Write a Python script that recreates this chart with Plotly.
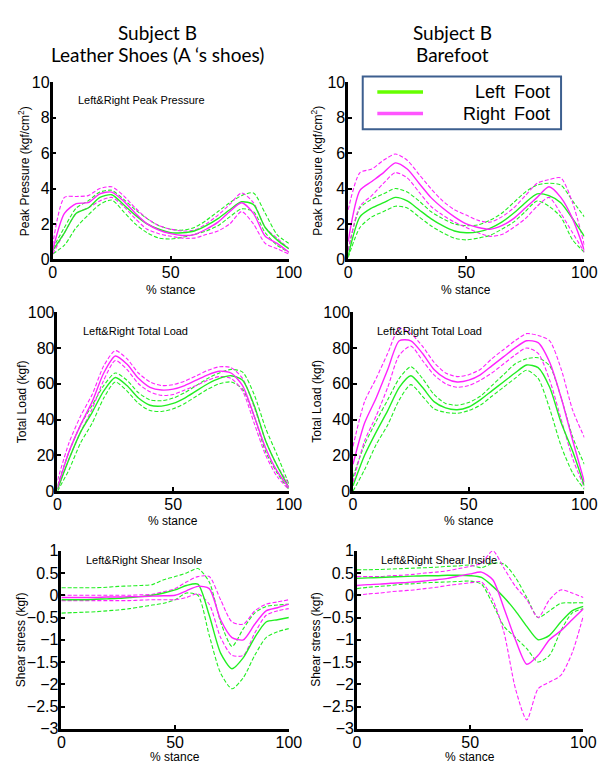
import plotly.graph_objects as go

# ---------------- data ----------------
X = list(range(0, 101, 5))

# Peak pressure, leather shoes
pp_l_left_mean = [0.5, 1.5, 2.6, 2.9, 3.5, 3.65, 3.1, 2.5, 2.0, 1.7, 1.5, 1.5, 1.6, 1.9, 2.3, 2.8, 3.25, 3.1, 1.8, 1.1, 0.6]
pp_l_left_up   = [0.6, 1.8, 2.9, 3.3, 3.8, 3.9, 3.4, 2.8, 2.3, 1.9, 1.7, 1.65, 1.8, 2.2, 2.7, 3.2, 3.6, 3.75, 2.6, 1.4, 0.9]
pp_l_left_lo   = [0.3, 0.8, 1.8, 2.5, 3.1, 3.35, 2.7, 2.0, 1.5, 1.2, 1.15, 1.25, 1.4, 1.6, 1.9, 2.4, 2.85, 2.7, 1.5, 0.8, 0.4]
pp_l_right_mean = [0.5, 2.6, 3.15, 3.2, 3.7, 3.8, 3.3, 2.6, 2.0, 1.65, 1.45, 1.35, 1.4, 1.7, 2.1, 2.7, 3.2, 2.6, 1.3, 0.9, 0.4]
pp_l_right_up   = [0.8, 3.5, 3.55, 3.6, 4.0, 4.1, 3.6, 2.9, 2.3, 1.9, 1.7, 1.6, 1.65, 2.0, 2.5, 3.1, 3.75, 3.2, 1.8, 1.2, 0.6]
pp_l_right_lo   = [0.3, 1.5, 2.6, 2.9, 3.3, 3.5, 3.0, 2.3, 1.7, 1.45, 1.3, 1.2, 1.2, 1.4, 1.6, 2.0, 2.7, 2.0, 0.9, 0.6, 0.3]

# Peak pressure, barefoot
pp_b_left_mean = [0.2, 2.4, 2.9, 3.2, 3.5, 3.3, 2.8, 2.3, 1.9, 1.6, 1.5, 1.55, 1.75, 2.1, 2.6, 3.2, 3.7, 3.6, 3.2, 2.3, 1.3]
pp_b_left_up   = [0.5, 2.9, 3.4, 3.7, 4.0, 3.8, 3.3, 2.7, 2.3, 2.0, 1.9, 1.95, 2.2, 2.6, 3.2, 3.8, 4.2, 4.3, 4.2, 3.3, 2.4]
pp_b_left_lo   = [0.1, 1.8, 2.4, 2.7, 3.0, 2.9, 2.4, 1.9, 1.5, 1.2, 1.1, 1.2, 1.35, 1.7, 2.1, 2.7, 3.3, 3.0, 2.4, 1.1, 0.4]
pp_b_right_mean = [1.0, 3.9, 4.4, 4.9, 5.45, 5.1, 4.3, 3.5, 2.9, 2.4, 2.0, 1.8, 1.7, 1.9, 2.3, 2.9, 3.5, 4.1, 3.5, 2.3, 0.5]
pp_b_right_up   = [2.8, 4.9, 5.1, 5.6, 5.95, 5.6, 4.8, 4.0, 3.3, 2.8, 2.5, 2.2, 2.1, 2.4, 2.9, 3.6, 4.3, 4.5, 4.6, 3.2, 0.8]
pp_b_right_lo   = [0.5, 3.0, 3.6, 4.3, 4.9, 4.6, 3.8, 3.0, 2.5, 2.1, 1.8, 1.5, 1.3, 1.4, 1.8, 2.3, 3.0, 3.5, 2.6, 1.5, 0.4]

# Total load, leather shoes
tl_l_left_mean = [1, 18, 33, 44, 56, 63.5, 59, 52, 48, 47.5, 49, 52, 56, 60, 63, 64.5, 62, 48, 28, 14, 2]
tl_l_left_up   = [3, 22, 37, 48, 59, 66, 62, 55, 51, 50.5, 52, 55, 59, 63, 66, 68, 66.5, 54, 35, 20, 4]
tl_l_left_lo   = [0, 12, 27, 38, 52, 61, 56, 49, 45, 44.5, 46, 49, 53, 57, 60, 61, 57, 42, 22, 10, 1]
tl_l_right_mean = [2, 22, 37, 50, 66, 75.5, 71, 63, 58, 56.5, 57, 59, 62, 65, 67, 66, 59, 42, 24, 11, 2]
tl_l_right_up   = [6, 27, 42, 54, 70, 78.5, 74, 66, 61, 59, 59.5, 61.5, 64.5, 67.5, 69.5, 69, 63, 47, 28, 14, 4]
tl_l_right_lo   = [1, 18, 33, 46, 62, 73, 68, 60, 55.5, 53.5, 54, 56.5, 59, 62, 64, 63, 56, 38, 20, 8, 1]

# Total load, barefoot
tl_b_left_mean = [3, 20, 33, 45, 58, 64.5, 58, 50, 46.5, 45.5, 47, 51, 56, 61, 66, 70.5, 69, 58, 38, 22, 3]
tl_b_left_up   = [8, 26, 39, 51, 63, 69.5, 63, 54, 49, 48, 49.5, 53, 59, 65, 71, 74, 74.5, 70, 52, 30, 15]
tl_b_left_lo   = [0, 12, 26, 37, 51, 59.5, 53, 46, 44, 43.5, 45, 48, 53, 58, 63, 67.5, 63, 46, 25, 10, 1]
tl_b_right_mean = [15, 38, 52, 68, 84, 84, 77, 68, 63, 61, 62, 65, 70, 75, 80, 84, 83, 72, 52, 28, 5]
tl_b_right_up   = [25, 50, 63, 77, 91, 88, 81, 72, 66, 64, 65, 68, 74, 79, 84, 88, 87, 84, 68, 45, 30]
tl_b_right_lo   = [5, 28, 42, 58, 76, 81, 73, 65, 60, 58, 59, 62, 66, 71, 76, 80, 77, 62, 40, 18, 2]

# Shear, leather shoes (insole)
sh_l_left_mean = [-0.1, -0.1, -0.1, -0.09, -0.08, -0.07, -0.05, -0.03, 0.0, 0.05, 0.12, 0.22, 0.25, -0.45, -1.3, -1.65, -1.4, -0.95, -0.6, -0.55, -0.5]
sh_l_left_up   = [0.17, 0.17, 0.17, 0.17, 0.18, 0.2, 0.21, 0.22, 0.24, 0.35, 0.42, 0.5, 0.6, 0.3, -0.6, -1.15, -0.75, -0.4, -0.25, -0.22, -0.2]
sh_l_left_lo   = [-0.4, -0.39, -0.38, -0.37, -0.35, -0.33, -0.3, -0.26, -0.22, -0.18, -0.1, 0.05, 0.0, -0.9, -1.75, -2.1, -1.85, -1.35, -0.95, -0.82, -0.75]
sh_l_right_mean = [-0.05, -0.05, -0.05, -0.05, -0.04, -0.04, -0.03, -0.03, -0.02, -0.01, 0.0, 0.1, 0.2, 0.15, -0.55, -0.95, -1.0, -0.65, -0.35, -0.28, -0.2]
sh_l_right_up   = [0.0, 0.0, 0.0, 0.0, 0.0, 0.0, 0.0, 0.01, 0.02, 0.08, 0.15, 0.3, 0.42, 0.42, -0.1, -0.6, -0.65, -0.35, -0.2, -0.15, -0.1]
sh_l_right_lo   = [-0.12, -0.12, -0.12, -0.12, -0.12, -0.12, -0.12, -0.11, -0.1, -0.1, -0.1, -0.05, 0.03, -0.2, -0.95, -1.35, -1.35, -0.85, -0.45, -0.35, -0.3]

# Shear, barefoot (inside)
sh_b_left_mean = [0.38, 0.39, 0.4, 0.41, 0.42, 0.43, 0.44, 0.44, 0.45, 0.45, 0.44, 0.4, 0.2, -0.05, -0.35, -0.7, -1.0, -0.9, -0.6, -0.35, -0.25]
sh_b_left_up   = [0.57, 0.575, 0.58, 0.59, 0.6, 0.61, 0.62, 0.63, 0.65, 0.66, 0.68, 0.62, 0.72, 0.7, 0.4, -0.05, -0.5, -0.35, -0.18, -0.17, -0.17]
sh_b_left_lo   = [0.15, 0.18, 0.2, 0.22, 0.25, 0.26, 0.28, 0.29, 0.3, 0.31, 0.32, 0.25, -0.2, -0.7, -0.95, -1.2, -1.5, -1.35, -0.8, -0.4, -0.3]
sh_b_right_mean = [0.22, 0.24, 0.25, 0.27, 0.28, 0.3, 0.32, 0.35, 0.38, 0.43, 0.48, 0.52, 0.35, -0.3, -1.0, -1.55, -1.35, -1.0, -0.8, -0.55, -0.3]
sh_b_right_up   = [0.42, 0.42, 0.42, 0.44, 0.45, 0.47, 0.5, 0.52, 0.55, 0.6, 0.65, 0.72, 1.0, 0.6, 0.2, -0.1, -0.5, -0.1, 0.12, 0.05, -0.05]
sh_b_right_lo   = [0.0, 0.03, 0.05, 0.08, 0.1, 0.12, 0.15, 0.18, 0.22, 0.25, 0.28, 0.3, -0.1, -0.85, -2.1, -2.8, -2.1, -1.95, -1.8, -1.3, -0.45]

column_title_1 = ["Subject B", "Subject B"]
column_title_2 = ["Leather Shoes (A \u2018s shoes)", "Barefoot"]
panel_labels = ["Left&Right Peak Pressure", None, "Left&Right Total Load", "Left&Right Total Load",
                "Left&Right Shear Insole", "Left&Right Shear Inside"]
y_titles = ["Peak Pressure (kgf/cm<sup>2</sup>)", "Peak Pressure (kgf/cm<sup>2</sup>)",
            "Total Load (kgf)", "Total Load (kgf)", "Shear stress (kgf)", "Shear stress (kgf)"]
x_title = "% stance"
legend_names = ["Left\u2002Foot", "Right\u2002Foot"]

GREEN = "#22ee22"
MAGENTA = "#ff22ff"

# ---------------- layout helpers ----------------
# body margin is removed by a post script, so the figure fills the whole window
W, H = 611, 772
def fx(p): return p / W
def fy(p): return 1 - p / H

# pixel boxes on the page (left, right, top, bottom)
boxes = [(50, 293, 76, 257), (354, 597, 76, 257),
         (55, 293, 311, 494), (359, 597, 311, 494),
         (59, 293, 555, 737), (363, 596, 555, 737)]
yranges = [[0, 10], [0, 10], [0, 100], [0, 100], [-3, 1], [-3, 1]]
ydticks = [2, 2, 20, 20, 0.5, 0.5]

data_sets = [
    (pp_l_left_mean, pp_l_left_up, pp_l_left_lo, pp_l_right_mean, pp_l_right_up, pp_l_right_lo),
    (pp_b_left_mean, pp_b_left_up, pp_b_left_lo, pp_b_right_mean, pp_b_right_up, pp_b_right_lo),
    (tl_l_left_mean, tl_l_left_up, tl_l_left_lo, tl_l_right_mean, tl_l_right_up, tl_l_right_lo),
    (tl_b_left_mean, tl_b_left_up, tl_b_left_lo, tl_b_right_mean, tl_b_right_up, tl_b_right_lo),
    (sh_l_left_mean, sh_l_left_up, sh_l_left_lo, sh_l_right_mean, sh_l_right_up, sh_l_right_lo),
    (sh_b_left_mean, sh_b_left_up, sh_b_left_lo, sh_b_right_mean, sh_b_right_up, sh_b_right_lo),
]

fig = go.Figure()
FAM = "Liberation Sans, Arial, sans-serif"
TICKFONT = dict(family=FAM, size=16, color="black")
SMALLFONT = dict(family=FAM, size=12, color="black")

annotations = []
for i, (box, yr, dt, ds) in enumerate(zip(boxes, yranges, ydticks, data_sets)):
    n = i + 1
    xa = "x" if n == 1 else f"x{n}"
    ya = "y" if n == 1 else f"y{n}"
    lm, lu, ll, rm, ru, rl = ds
    for ys, col, dash, w in [(lu, GREEN, "4px,2px", 1.1), (ll, GREEN, "4px,2px", 1.1),
                             (ru, MAGENTA, "4px,2px", 1.1), (rl, MAGENTA, "4px,2px", 1.1),
                             (lm, GREEN, "solid", 1.4), (rm, MAGENTA, "solid", 1.4)]:
        fig.add_trace(go.Scatter(x=X, y=ys, mode="lines", xaxis=xa, yaxis=ya,
                                 line=dict(color=col, width=w, dash=dash, shape="spline", smoothing=0.7),
                                 showlegend=False, hoverinfo="skip"))
    l, r, t, b = box
    axis_common = dict(showline=True, linecolor="black", linewidth=2.5, mirror=False,
                       showgrid=False, zeroline=False, ticks="inside", ticklen=4,
                       tickwidth=1.5, tickcolor="black", tickfont=TICKFONT, ticklabelstandoff=-3)
    fig.update_layout(**{
        ("xaxis" if n == 1 else f"xaxis{n}"): dict(domain=[fx(l), fx(r)], range=[0, 100],
                                                   tickvals=[0, 50, 100], anchor=ya, **axis_common),
        ("yaxis" if n == 1 else f"yaxis{n}"): dict(domain=[fy(b), fy(t)], range=yr, dtick=dt,
                                                   anchor=xa, **axis_common),
    })
    # x axis title
    xty = b + 31 if i < 4 else b + 29
    annotations.append(dict(text=x_title, x=fx((l + r) / 2), y=fy(xty), xref="paper", yref="paper",
                            showarrow=False, font=SMALLFONT, xanchor="center", yanchor="middle"))
    # y axis title
    ytx = {0: 20, 1: 322, 2: 18, 3: 322, 4: 17, 5: 321}[i]
    annotations.append(dict(text=y_titles[i], x=fx(ytx), y=fy((t + b) / 2), xref="paper", yref="paper",
                            showarrow=False, font=SMALLFONT, textangle=-90,
                            xanchor="center", yanchor="middle"))
    if panel_labels[i]:
        lx = {0: 74, 2: 79, 3: 382, 4: 82, 5: 386}[i]
        lyy = {0: 94, 2: 330, 3: 330, 4: 564, 5: 564}[i]
        annotations.append(dict(text=panel_labels[i], x=fx(lx), y=fy(lyy), xref="paper", yref="paper",
                                showarrow=False, xanchor="left", yanchor="middle",
                                font=dict(family=FAM, size=11, color="black")))

# column titles
for cx, t1, t2 in zip([158, 461], column_title_1, column_title_2):
    for yy, txt in [(25, t1), (48, t2)]:
        annotations.append(dict(text=txt, x=fx(cx), y=fy(yy), xref="paper", yref="paper", showarrow=False,
                                xanchor="center", yanchor="middle",
                                font=dict(family="Lato, Open Sans, sans-serif", size=19, color="black")))

# legend (drawn box)
shapes = [dict(type="rect", xref="paper", yref="paper", x0=fx(369), x1=fx(573), y0=fy(124), y1=fy(70),
               line=dict(color="#3d5f8f", width=2), fillcolor="white", layer="above")]
for yy, col, name in [(86, "#66ff00", legend_names[0]), (108, "#ff55ff", legend_names[1])]:
    shapes.append(dict(type="line", xref="paper", yref="paper", x0=fx(384), x1=fx(431), y0=fy(yy), y1=fy(yy),
                       line=dict(color=col, width=3.5), layer="above"))
    annotations.append(dict(text=name, x=fx(564), y=fy(yy), xref="paper", yref="paper",
                            showarrow=False, xanchor="right", yanchor="middle",
                            font=dict(family=FAM, size=18, color="black")))

fig.update_layout(width=W, height=H, margin=dict(l=0, r=0, t=0, b=0),
                  paper_bgcolor="white", plot_bgcolor="white",
                  annotations=annotations, shapes=shapes, showlegend=False)

fig.write_html("out.html", config={"displayModeBar": False},
               post_script="document.body.style.margin='0px';document.body.style.overflow='hidden';")
